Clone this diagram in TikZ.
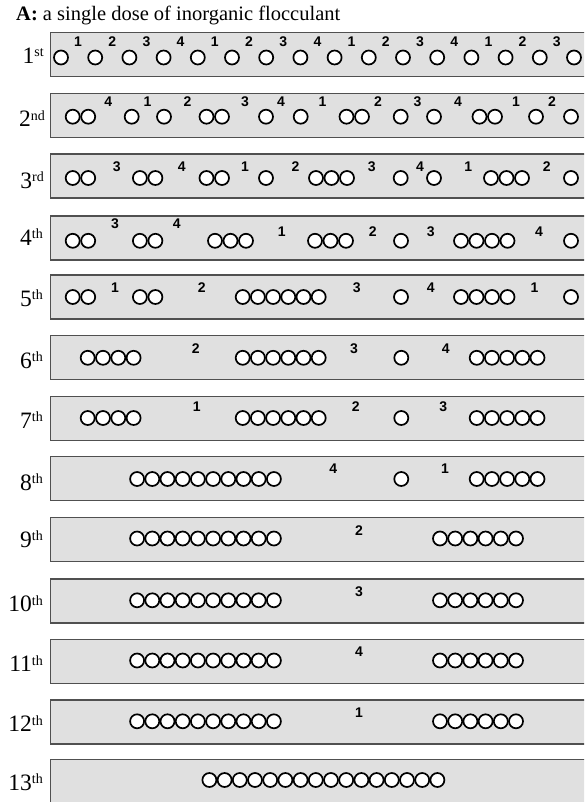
\documentclass[tikz,border=0pt]{standalone}
\usepackage{fontspec}
\setmainfont{Liberation Serif}
\newfontfamily\numfont{Liberation Sans}
\definecolor{barfill}{RGB}{224,224,224}
\definecolor{barline}{RGB}{80,80,80}
\newcommand\sups[1]{\raisebox{6.5pt}{\fontsize{14}{14}\selectfont #1}}
\newcommand\pcircles[3]{\foreach \xx [count=\nn] in {#3} {\node[ptc] (r#1c\nn) at (\xx,#2) {};}}
\newcommand\plabels[3]{\foreach \xx/\tt [count=\nn] in {#3} {\node[lbl] (r#1n\nn) at (\xx,#2) {\tt};}}
\begin{document}
\begin{tikzpicture}[x=1pt,y=-1pt,
  bar/.style={draw=barline, fill=barfill, line width=1.1pt, anchor=north west,
    minimum width=560pt, minimum height=44pt, inner sep=0pt, outer sep=0pt},
  ptc/.style={circle, draw=black, fill=white, line width=1.7pt, minimum size=14pt, inner sep=0pt},
  lbl/.style={font=\numfont\bfseries\fontsize{14}{14}\selectfont, inner sep=0pt},
  rowlab/.style={anchor=base east, inner sep=0pt, font=\fontsize{23.5}{23.5}\selectfont}]
\useasboundingbox (0,0) rectangle (584,802);
\clip (0,0) rectangle (584,802);
% title
\node[anchor=base west, inner sep=0pt, font=\fontsize{20.5}{20.5}\selectfont] (title) at (16,20.7)
  {\textbf{A:} a single dose of inorganic flocculant};
% bars
\foreach \tp [count=\k] in {32.3,93.3,154,216,275,335.7,396.7,456.7,517.7,579,639.3,700,759.3}
  {\node[bar] (bar\k) at (50.5,\tp) {};}
% row labels
\node[rowlab] (lab1) at (44,63.3) {1\sups{st}};
\node[rowlab] (lab2) at (45,126.7) {2\sups{nd}};
\node[rowlab] (lab3) at (44,188.3) {3\sups{rd}};
\node[rowlab] (lab4) at (43,245) {4\sups{th}};
\node[rowlab] (lab5) at (43,306) {5\sups{th}};
\node[rowlab] (lab6) at (43,368.3) {6\sups{th}};
\node[rowlab] (lab7) at (43,428.3) {7\sups{th}};
\node[rowlab] (lab8) at (43,490) {8\sups{th}};
\node[rowlab] (lab9) at (43,547) {9\sups{th}};
\node[rowlab] (lab10) at (43,611.7) {10\sups{th}};
\node[rowlab] (lab11) at (43,671.7) {11\sups{th}};
\node[rowlab] (lab12) at (43,731.7) {12\sups{th}};
\node[rowlab] (lab13) at (43,790) {13\sups{th}};
% row 1
\foreach \i in {0,...,15} {\node[ptc] (r1c\i) at ({61+34.2*\i},57.5) {};}
\foreach \i in {0,...,14} {\pgfmathtruncatemacro\tv{mod(\i,4)+1}
  \node[lbl] (r1n\i) at ({78+34.2*\i},41.7) {\tv};}
% row 2
\pcircles{2}{116.7}{72.7,88.2,131.7,164,206.5,222,266,300.7,346.5,362,400.7,434,479.5,495,536,571}
\plabels{2}{101.3}{108.3/4,147.5/1,187.5/2,245/3,281/4,322.5/1,378/2,417.5/3,458/4,516/1,552/2}
% row 3
\pcircles{3}{178}{72.7,88.2,139.9,155.4,206.5,222,266,316,331.5,347,400.7,434,491,506.5,522,571}
\plabels{3}{167}{116.7/3,181.7/4,245/1,295.5/2,371.7/3,420/4,468.3/1,546.7/2}
% row 4
\pcircles{4}{240.8}{72.7,88.2,139.9,155.4,215,230.5,246,315,330.5,346,401,461,476.5,492,507.5,571}
\node[lbl] (r4n1) at (115,223.3) {3};
\node[lbl] (r4n2) at (176.7,223.5) {4};
\plabels{4}{231.5}{281.7/1,372.7/2,430.8/3,539/4}
% row 5
\pcircles{5}{297}{72.7,88.2,139.9,155.4,242.7,257.9,273.1,288.3,303.5,318.7,401,461,476.5,492,507.5,571}
\plabels{5}{287.5}{115/1,201.7/2,356.8/3,430.8/4,534.5/1}
% row 6
\pcircles{6}{357.8}{87.7,103,118.3,133.6,242.7,257.9,273.1,288.3,303.5,318.7,401.3,476.7,491.9,507.1,522.3,537.5}
\plabels{6}{348.3}{195.8/2,354/3,445.8/4}
% row 7
\pcircles{7}{418}{87.7,103,118.3,133.6,242.7,257.9,273.1,288.3,303.5,318.7,401.3,476.7,491.9,507.1,522.3,537.5}
\plabels{7}{406.8}{196.7/1,355.8/2,443.3/3}
% row 8
\foreach \k in {0,...,9} {\node[ptc] (r8a\k) at ({137.1+15.2*\k},479) {};}
\node[ptc] (r8b0) at (401.3,479) {};
\foreach \k in {0,...,4} {\node[ptc] (r8c\k) at ({476.7+15.2*\k},479) {};}
\plabels{8}{468.7}{333.3/4,445/1}
% rows 9-12
\foreach \r/\cy/\ny/\t in {9/538.5/530.8/2,10/600.3/591.3/3,11/660.5/651.7/4,12/721.3/712.5/1}{
  \foreach \k in {0,...,9} {\node[ptc] (r\r a\k) at ({137.1+15.2*\k},\cy) {};}
  \foreach \k in {0,...,5} {\node[ptc] (r\r b\k) at ({440+15.2*\k},\cy) {};}
  \node[lbl] (r\r n1) at (359,\ny) {\t};
}
% row 13
\foreach \k in {0,...,15} {\node[ptc] (r13a\k) at ({209.4+15.2*\k},780) {};}
\end{tikzpicture}
\end{document}
